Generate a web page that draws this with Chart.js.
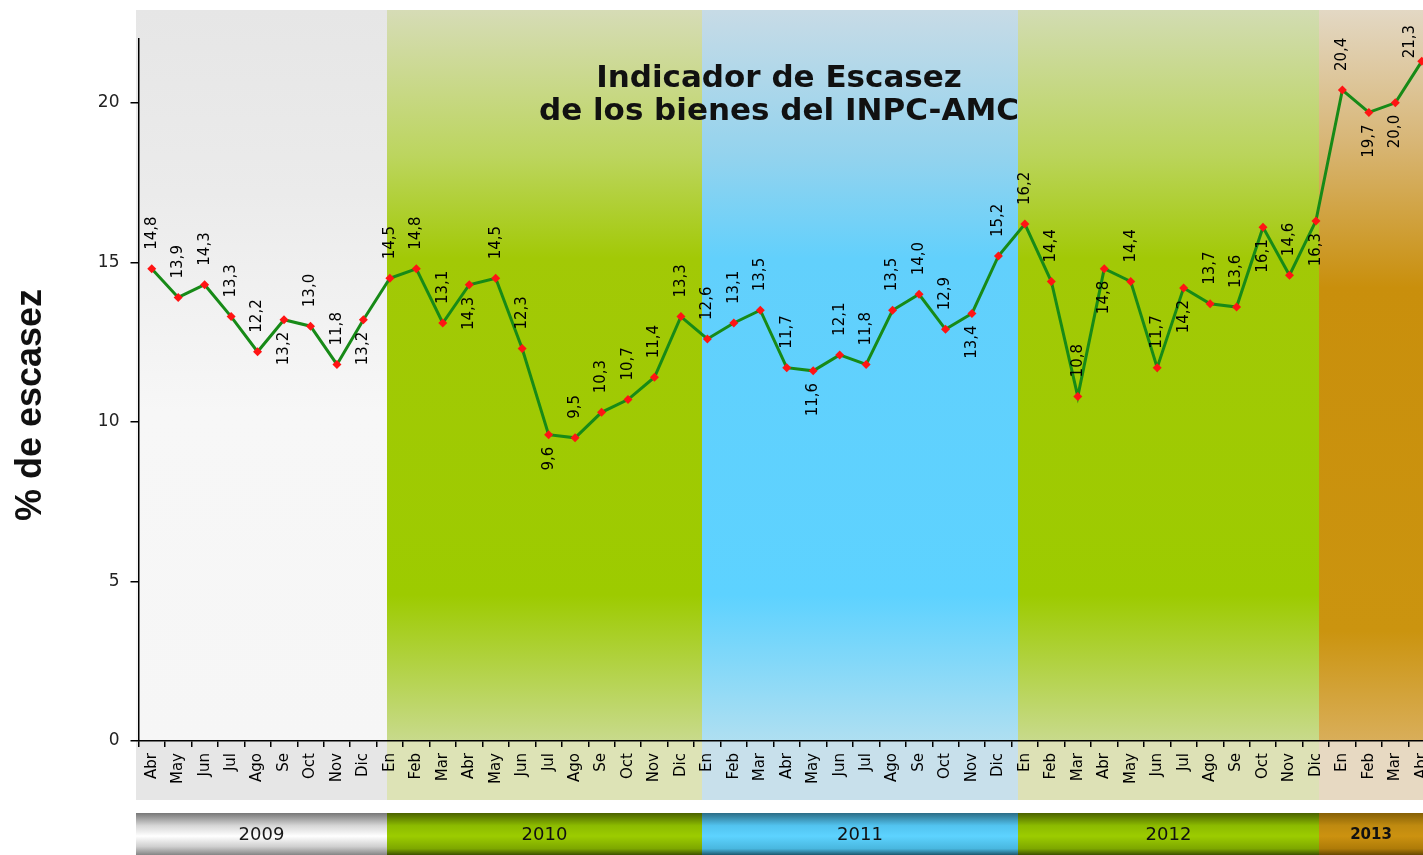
<!DOCTYPE html>
<html>
<head>
<meta charset="utf-8">
<script src="https://cdn.jsdelivr.net/npm/chart.js@4.4.0/dist/chart.umd.min.js"></script>
<style>
html, body { margin: 0; padding: 0; overflow: hidden; background: #ffffff; }
canvas { display: block; }
</style>
</head>
<body>
<canvas id="c" width="1440" height="855"></canvas>
<script>
// ---------- data ----------
const monthLabels = [
  'Abr','May','Jun','Jul','Ago','Se','Oct','Nov','Dic',
  'En','Feb','Mar','Abr','May','Jun','Jul','Ago','Se','Oct','Nov','Dic',
  'En','Feb','Mar','Abr','May','Jun','Jul','Ago','Se','Oct','Nov','Dic',
  'En','Feb','Mar','Abr','May','Jun','Jul','Ago','Se','Oct','Nov','Dic',
  'En','Feb','Mar','Abr'
];
const scarcityValues = [
  14.8, 13.9, 14.3, 13.3, 12.2, 13.2, 13.0, 11.8, 13.2,
  14.5, 14.8, 13.1, 14.3, 14.5, 12.3, 9.6, 9.5, 10.3, 10.7, 11.4, 13.3,
  12.6, 13.1, 13.5, 11.7, 11.6, 12.1, 11.8, 13.5, 14.0, 12.9, 13.4, 15.2,
  16.2, 14.4, 10.8, 14.8, 14.4, 11.7, 14.2, 13.7, 13.6, 16.1, 14.6, 16.3,
  20.4, 19.7, 20.0, 21.3
];
const yearNames = ['2009', '2010', '2011', '2012', '2013'];
const yTickValues = [0, 5, 10, 15, 20];

// ---------- styling config ----------
// value label placement: 'a' = above the point, 'b' = below
const labelSide = [
  'a','a','a','a','a','b','a','a','b',
  'a','a','a','b','a','a','b','a','a','a','a','a',
  'a','a','a','a','b','a','a','a','a','a','b','a',
  'a','a','a','b','a','a','b','a','a','b','a','b',
  'a','b','b','a'
];
// year band edges, in category-index units of the x scale
const yearBandEdges = [-0.5, 8.89, 20.8, 32.73, 44.1, 49.5];
const bandStyles = [
  { stops: [[0,'#e6e6e6'],[0.25,'#ebebeb'],[0.55,'#f7f7f7'],[1,'#f6f6f6']], strip: '#e6e6e6',
    bar: [[0,'#777777'],[0.3,'#d6d6d6'],[0.55,'#ffffff'],[0.8,'#cfcfcf'],[1,'#858585']], text: '#1a1a1a', bold: false },
  { stops: [[0,'#d6dcb6'],[0.2,'#bcd55e'],[0.34,'#a2c906'],[0.8,'#9dcb00'],[1,'#c8da8c']], strip: '#dde3b6',
    bar: [[0,'#4b6200'],[0.3,'#8cbb00'],[0.55,'#9ccc00'],[0.85,'#7da700'],[1,'#3d5100']], text: '#111111', bold: false },
  { stops: [[0,'#c7dbe6'],[0.2,'#93d3ee'],[0.34,'#62d0fc'],[0.8,'#5dd2ff'],[1,'#afdff1']], strip: '#c8e0eb',
    bar: [[0,'#2b6d86'],[0.3,'#52c3ef'],[0.55,'#5dd3ff'],[0.85,'#49b7df'],[1,'#1d586e']], text: '#111111', bold: false },
  { stops: [[0,'#d2dcb2'],[0.2,'#bad45a'],[0.34,'#a2c906'],[0.8,'#9dcb00'],[1,'#c8da8c']], strip: '#dde1b6',
    bar: [[0,'#4b6200'],[0.3,'#8cbb00'],[0.55,'#9ccc00'],[0.85,'#7da700'],[1,'#3d5100']], text: '#111111', bold: false },
  { stops: [[0,'#e3d8c4'],[0.18,'#d8b676'],[0.38,'#c98f0c'],[0.85,'#cb940f'],[1,'#d9ae5a']], strip: '#e7d9c2',
    bar: [[0,'#866006'],[0.3,'#bf8a10'],[0.55,'#cc9210'],[0.85,'#ae7b08'],[1,'#684800']], text: '#111111', bold: true }
];

function fmt(v) { return v.toFixed(1).replace('.', ','); }

const backdropPlugin = {
  id: 'backdrop',
  beforeDraw(chart) {
    const { ctx, chartArea, scales } = chart;
    const xs = scales.x;
    const top = chartArea.top - 29;
    const plotBottom = chartArea.bottom;
    const stripBottom = chartArea.bottom + 59;
    const barTop = chartArea.bottom + 72;
    const barBottom = chart.height;
    const visibleRight = Math.min(chart.width, window.innerWidth || chart.width);
    ctx.save();
    for (let i = 0; i < yearNames.length; i++) {
      const x0 = Math.round(xs.getPixelForValue(yearBandEdges[i])) - (i === 0 ? 3 : 0);
      const x1 = i === yearNames.length - 1 ? chart.width : Math.round(xs.getPixelForValue(yearBandEdges[i + 1]));
      const st = bandStyles[i];
      const g = ctx.createLinearGradient(0, top, 0, plotBottom);
      st.stops.forEach(s => g.addColorStop(s[0], s[1]));
      ctx.fillStyle = g;
      ctx.fillRect(x0, top, x1 - x0, plotBottom - top);
      ctx.fillStyle = st.strip;
      ctx.fillRect(x0, plotBottom, x1 - x0, stripBottom - plotBottom);
      const gb = ctx.createLinearGradient(0, barTop, 0, barBottom);
      st.bar.forEach(s => gb.addColorStop(s[0], s[1]));
      ctx.fillStyle = gb;
      ctx.fillRect(x0, barTop, x1 - x0, barBottom - barTop);
      ctx.fillStyle = st.text;
      ctx.font = (st.bold ? 'bold 15px' : '18px') + ' "DejaVu Sans", sans-serif';
      ctx.textAlign = 'center';
      ctx.textBaseline = 'middle';
      const cx = (x0 + Math.min(x1, visibleRight)) / 2;
      ctx.fillText(yearNames[i], cx, (barTop + barBottom) / 2 + 1);
    }
    ctx.restore();
  },
  afterDraw(chart) {
    const { ctx, chartArea } = chart;
    ctx.save();
    // main title
    ctx.fillStyle = '#111111';
    ctx.font = 'bold 31px "DejaVu Sans", sans-serif';
    ctx.textAlign = 'center';
    ctx.textBaseline = 'alphabetic';
    ctx.fillText('Indicador de Escasez', 779, chartArea.top + 48);
    ctx.fillText('de los bienes del INPC-AMC', 779, chartArea.top + 81);
    // y axis title
    ctx.translate(31, (chartArea.top + chartArea.bottom) / 2 + 15);
    ctx.rotate(-Math.PI / 2);
    ctx.font = 'bold 36px "Liberation Sans", Arial, sans-serif';
    ctx.textBaseline = 'middle';
    ctx.fillStyle = '#111111';
    ctx.fillText('% de escasez', 0, 0);
    ctx.restore();
  }
};

const valueLabelPlugin = {
  id: 'valueLabels',
  afterDatasetsDraw(chart) {
    const { ctx } = chart;
    const meta = chart.getDatasetMeta(0);
    const visibleRight = Math.min(chart.width, window.innerWidth || chart.width);
    ctx.save();
    ctx.font = '15px "DejaVu Sans", sans-serif';
    ctx.fillStyle = '#000000';
    ctx.textBaseline = 'middle';
    meta.data.forEach((pt, i) => {
      const above = labelSide[i] === 'a';
      let lx = pt.x;
      let gap = above ? 19 : 12;
      // keep labels near the right edge inside the visible window
      if (lx + 9 > visibleRight) { lx = visibleRight - 13; gap = 3; }
      ctx.save();
      ctx.translate(lx, above ? pt.y - gap : pt.y + gap);
      ctx.rotate(-Math.PI / 2);
      ctx.textAlign = above ? 'left' : 'right';
      ctx.fillText(fmt(scarcityValues[i]), 0, 0);
      ctx.restore();
    });
    ctx.restore();
  }
};

new Chart(document.getElementById('c'), {
  type: 'line',
  data: {
    labels: monthLabels,
    datasets: [{
      data: scarcityValues,
      borderColor: '#178a17',
      borderWidth: 3,
      tension: 0,
      pointStyle: 'rectRot',
      pointRadius: 4.5,
      pointBackgroundColor: '#ff1414',
      pointBorderColor: '#ff1414',
      pointBorderWidth: 0,
      fill: false
    }]
  },
  options: {
    responsive: false,
    animation: false,
    devicePixelRatio: 1,
    layout: { padding: { top: 39, right: 5, left: 0, bottom: 0 } },
    plugins: { legend: { display: false }, tooltip: { enabled: false }, title: { display: false } },
    scales: {
      x: {
        type: 'category',
        offset: true,
        afterFit(scale) { scale.height = 114; scale.paddingLeft = 0; scale.paddingRight = 0; },
        border: { display: true, color: '#000000', width: 1.5 },
        grid: { display: true, drawOnChartArea: false, offset: true, tickLength: 6, color: '#000000', lineWidth: 1.5 },
        ticks: {
          autoSkip: false, minRotation: 90, maxRotation: 90, padding: 6,
          color: '#000000', font: { family: '"DejaVu Sans", sans-serif', size: 15 }
        }
      },
      y: {
        min: 0, max: 22,
        afterFit(scale) { scale.width = 138.5; scale.paddingTop = 0; scale.paddingBottom = 0; },
        afterBuildTicks(scale) { scale.ticks = yTickValues.map(v => ({ value: v })); },
        border: { display: true, color: '#000000', width: 1.5 },
        grid: { display: true, drawOnChartArea: false, tickLength: 8, color: '#000000', lineWidth: 1.5 },
        ticks: {
          padding: 11, color: '#222222',
          font: { family: '"DejaVu Sans", sans-serif', size: 17 },
          callback: v => String(v)
        }
      }
    }
  },
  plugins: [backdropPlugin, valueLabelPlugin]
});
</script>
</body>
</html>
